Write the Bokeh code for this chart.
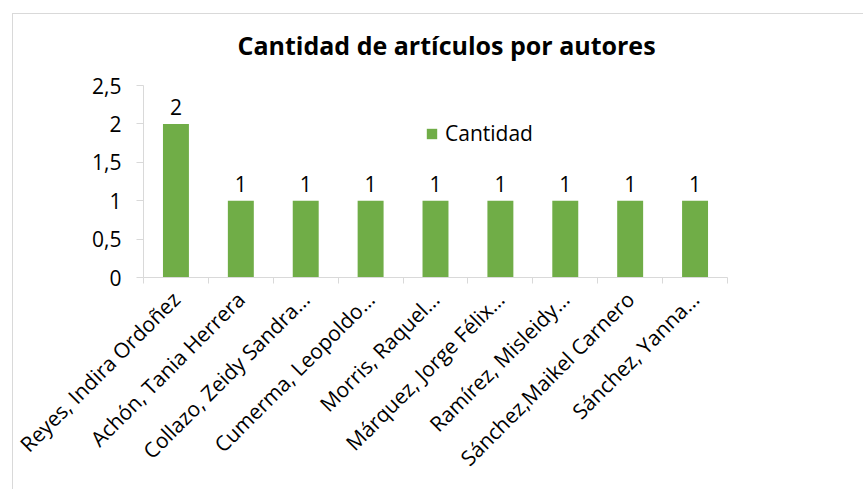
import math
from bokeh.plotting import figure
from bokeh.models import (Range1d, FixedTicker, CustomJSTickFormatter, ColumnDataSource,
                          LabelSet, Legend, LegendItem)
from bokeh.core.properties import value
from bokeh.embed import file_html
from bokeh.resources import INLINE

# ---- data ----
authors = [
    "Reyes, Indira Ordoñez",
    "Achón, Tania Herrera",
    "Collazo, Zeidy Sandra…",
    "Cumerma, Leopoldo…",
    "Morris, Raquel…",
    "Márquez, Jorge Félix…",
    "Ramírez, Misleidy…",
    "Sánchez,Maikel Carnero",
    "Sánchez, Yanna…",
]
cantidad = [2, 1, 1, 1, 1, 1, 1, 1, 1]
y_ticks = [0, 0.5, 1, 1.5, 2, 2.5]
series_name = "Cantidad"
title_text = "Cantidad de artículos por autores"

FONT = "Open Sans"
GREEN = "#70AD47"
GRAY = "#D9D9D9"

n = len(authors)
centers = [i + 0.5 for i in range(n)]
bounds = list(range(n + 1))

src = ColumnDataSource(dict(x=centers, y=cantidad, label=[str(v) for v in cantidad]))

p = figure(width=863, height=489, output_backend="svg", toolbar_location=None,
           x_range=Range1d(0, n), y_range=Range1d(0, y_ticks[-1]),
           min_border_left=143, min_border_right=136, min_border_top=85,
           min_border_bottom=212)
p.outline_line_color = None
p.xgrid.visible = False
p.ygrid.visible = False
p.border_fill_alpha = 0
p.background_fill_alpha = 0
# chart-area border (left and top edges, running off the right/bottom)
p.styles = {
    "background": (
        "linear-gradient(#D9D9D9,#D9D9D9) 12px 13px / 100% 1px no-repeat, "
        "linear-gradient(#D9D9D9,#D9D9D9) 12px 13px / 1px 100% no-repeat, white"
    )
}

r = p.vbar(x="x", top="y", width=0.4, source=src, fill_color=GREEN, line_color=None)

labels = LabelSet(x="x", y="y", text="label", source=src, text_align="center",
                  text_baseline="bottom", y_offset=9, text_font=value(FONT),
                  text_font_size="21px", text_color="black")
p.add_layout(labels)

# x axis
xa = p.xaxis[0]
xa.ticker = FixedTicker(ticks=centers, minor_ticks=bounds)
xa.formatter = CustomJSTickFormatter(args=dict(names=authors),
                                     code="return names[Math.floor(tick)];")
xa.major_tick_line_color = None
xa.minor_tick_line_color = GRAY
xa.minor_tick_out = 6
xa.minor_tick_in = 0
xa.axis_line_color = GRAY
xa.major_label_orientation = math.pi / 4
xa.major_label_text_font = FONT
xa.major_label_text_font_size = "21px"
xa.major_label_text_color = "black"
xa.major_label_standoff = 12

# y axis
ya = p.yaxis[0]
ya.ticker = FixedTicker(ticks=y_ticks, minor_ticks=[])
ya.formatter = CustomJSTickFormatter(code="return tick.toString().replace('.', ',');")
ya.major_tick_line_color = GRAY
ya.major_tick_out = 7
ya.major_tick_in = 0
ya.minor_tick_line_color = None
ya.axis_line_color = GRAY
ya.major_label_text_font = FONT
ya.major_label_text_font_size = "21px"
ya.major_label_text_color = "black"
ya.major_label_standoff = 15

# title
p.title.text = title_text
p.title.align = "left"
p.title.offset = 94
p.title.text_font = FONT
p.title.text_font_size = "25px"
p.title.text_font_style = "bold"
p.title.text_color = "black"
p.title.standoff = 47

# legend
legend = Legend(items=[LegendItem(label=series_name, renderers=[r])],
                location=(282, 130), glyph_width=13, glyph_height=13,
                label_text_font=FONT, label_text_font_size="21px",
                label_text_color="black", label_standoff=7,
                padding=0, margin=0, border_line_color=None,
                background_fill_alpha=0)
p.add_layout(legend)

open("out.html", "w").write(file_html(p, INLINE))
